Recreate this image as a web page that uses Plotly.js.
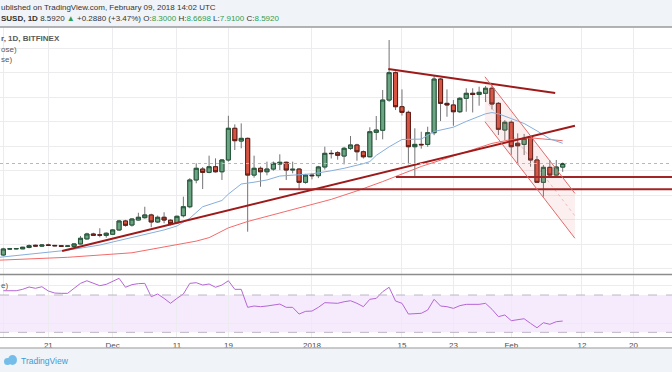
<!DOCTYPE html>
<html><head><meta charset="utf-8">
<script src="https://cdn.plot.ly/plotly-3.0.1.min.js"></script>
<style>html,body{margin:0;padding:0;background:#fff;} #chart{width:672px;height:372px;}</style>
</head><body><div id="chart"></div>
<script>
// ---- daily candles, BITFINEX EOSUSD 1D ----
const dates = ['2017-11-14','2017-11-15','2017-11-16','2017-11-17','2017-11-18','2017-11-19','2017-11-20','2017-11-21','2017-11-22','2017-11-23','2017-11-24','2017-11-25','2017-11-26','2017-11-27','2017-11-28','2017-11-29','2017-11-30',
'2017-12-01','2017-12-02','2017-12-03','2017-12-04','2017-12-05','2017-12-06','2017-12-07','2017-12-08','2017-12-09','2017-12-10','2017-12-11','2017-12-12','2017-12-13','2017-12-14','2017-12-15','2017-12-16','2017-12-17','2017-12-18','2017-12-19','2017-12-20','2017-12-21','2017-12-22','2017-12-23','2017-12-24','2017-12-25','2017-12-26','2017-12-27','2017-12-28','2017-12-29','2017-12-30','2017-12-31',
'2018-01-01','2018-01-02','2018-01-03','2018-01-04','2018-01-05','2018-01-06','2018-01-07','2018-01-08','2018-01-09','2018-01-10','2018-01-11','2018-01-12','2018-01-13','2018-01-14','2018-01-15','2018-01-16','2018-01-17','2018-01-18','2018-01-19','2018-01-20','2018-01-21','2018-01-22','2018-01-23','2018-01-24','2018-01-25','2018-01-26','2018-01-27','2018-01-28','2018-01-29','2018-01-30','2018-01-31',
'2018-02-01','2018-02-02','2018-02-03','2018-02-04','2018-02-05','2018-02-06','2018-02-07','2018-02-08','2018-02-09'];
const openP = [1.14,1.63,1.64,1.64,1.75,1.93,1.86,1.95,1.92,1.89,1.85,1.84,2.04,2.45,2.85,2.78,2.74,
2.83,3.18,3.91,3.58,3.99,4.18,4.40,3.83,4.21,3.97,3.77,4.34,5.07,7.25,8.14,7.87,8.33,7.92,8.88,11.46,10.42,10.64,7.65,8.20,7.92,8.14,8.55,8.69,8.06,8.14,7.06,
7.65,7.60,8.31,9.42,9.47,9.20,9.83,10.10,9.55,9.14,11.13,11.30,13.76,15.99,13.22,12.76,9.96,10.15,10.15,11.10,15.47,13.49,13.36,12.81,13.90,14.31,14.22,14.31,14.72,13.49,11.32,
11.95,10.24,10.15,10.77,8.88,7.06,8.28,7.65,8.30];
const highP = [1.72,1.68,1.70,1.80,2.00,1.98,2.00,2.06,1.96,1.92,1.91,2.08,2.69,2.95,2.95,3.32,2.98,
3.25,4.00,4.00,4.12,4.58,5.07,4.50,4.35,4.62,4.05,4.35,5.89,7.40,8.61,8.30,9.23,9.01,8.95,12.48,11.78,11.86,10.70,9.23,8.35,8.74,8.75,9.34,8.75,8.74,8.20,7.75,
7.80,8.40,9.96,9.69,9.60,9.95,10.83,10.20,9.65,11.54,12.46,14.58,18.65,16.10,14.63,12.90,11.46,11.18,11.59,15.72,15.55,14.63,13.76,14.00,14.72,14.72,14.85,14.90,14.98,13.60,12.13,
12.10,11.05,11.00,10.90,9.20,8.47,8.88,8.88,8.6698];
const lowP = [1.08,1.58,1.60,1.62,1.68,1.84,1.80,1.88,1.86,1.82,1.80,1.80,2.00,2.40,2.70,2.58,2.55,
2.80,3.10,3.45,3.45,3.95,4.10,3.40,3.75,3.72,3.55,3.70,4.20,4.95,6.98,6.51,7.80,7.85,7.25,8.74,9.69,9.83,3.04,7.44,6.70,7.63,8.00,8.06,7.25,7.79,6.51,6.95,
7.30,7.40,8.10,9.00,8.90,8.52,9.70,8.82,9.00,9.10,10.50,10.56,13.62,12.95,12.50,8.52,7.52,9.80,9.95,10.90,12.05,12.40,11.67,12.70,12.81,12.75,13.30,13.60,13.00,10.91,10.50,
9.30,8.52,9.28,8.33,7.00,5.89,7.50,7.60,7.91];
const closeP = [1.63,1.64,1.66,1.77,1.90,1.87,1.95,1.93,1.89,1.85,1.87,2.04,2.50,2.85,2.75,2.76,2.91,
3.18,3.91,3.56,4.07,4.21,4.40,3.83,4.21,3.99,3.69,4.29,5.07,7.25,8.20,7.87,8.33,7.92,8.88,11.46,10.45,10.64,7.65,8.20,7.92,8.14,8.61,8.69,8.06,8.12,7.06,7.65,
7.60,8.31,9.42,9.40,9.26,9.83,10.10,9.55,9.14,11.18,11.32,13.76,15.99,13.22,12.76,9.96,10.15,10.12,11.10,15.47,13.49,13.36,12.81,13.90,14.31,14.22,14.39,14.72,13.44,11.38,11.95,
9.96,10.04,10.64,8.88,7.06,8.28,7.65,8.304,8.592];
// ---- RSI (14, close) ----
const rsi = [74.6,74.6,74.6,76.1,78.6,77.2,78.9,74.3,72.1,71.8,71.8,77.2,82.5,85.3,82.5,80.0,81.4,
84.3,87.9,78.3,81.1,82.2,82.5,68.2,71.1,66.4,61.1,66.4,71.1,82.5,83.2,80.7,81.8,78.3,80.7,85.3,76.1,76.1,56.8,58.2,57.5,58.2,59.6,60.3,56.8,56.8,49.6,52.5,
52.8,56.8,61.8,61.8,61.1,62.8,63.9,61.1,57.5,65.4,66.4,73.6,78.3,63.6,61.1,49.6,50.0,50.4,53.9,65.4,58.2,57.5,55.7,58.6,60.0,60.0,60.0,61.1,54.7,46.8,48.6,
42.5,43.2,44.6,39.6,34.9,40.3,38.6,41.4,42.1];
// ---- moving averages ----
const ma20Dates = ['2017-11-13','2017-11-21','2017-11-24','2017-11-29','2017-12-01','2017-12-05','2017-12-09','2017-12-11','2017-12-13','2017-12-15','2017-12-18','2017-12-19','2017-12-21','2017-12-23','2017-12-25','2017-12-27','2017-12-29',
'2018-01-01','2018-01-04','2018-01-06','2018-01-09','2018-01-10','2018-01-11','2018-01-13','2018-01-15','2018-01-17','2018-01-18','2018-01-20','2018-01-23','2018-01-25','2018-01-28','2018-01-29','2018-01-30','2018-02-01','2018-02-03','2018-02-05','2018-02-07','2018-02-09'];
const ma20 = [0.93,1.40,1.53,1.95,2.20,2.74,3.18,3.50,4.13,5.07,5.58,6.10,6.92,7.07,7.25,7.57,7.65,
7.75,8.00,8.20,8.58,8.75,9.25,9.95,10.55,10.55,10.58,11.20,11.55,12.02,12.64,12.74,12.64,12.25,11.85,11.25,10.60,10.24];
const ma50Dates = ['2017-11-13','2017-11-24','2017-12-04','2017-12-10','2017-12-14','2017-12-16','2017-12-19','2017-12-22','2017-12-24','2017-12-29',
'2018-01-04','2018-01-08','2018-01-12','2018-01-18','2018-01-22','2018-01-26','2018-01-29','2018-02-01','2018-02-04','2018-02-09'];
const ma50 = [0.71,0.95,1.32,1.88,2.27,2.55,3.35,3.87,4.14,4.80,5.67,6.36,7.12,8.35,9.04,9.75,10.23,10.54,10.68,10.45];
// ---- drawings ----
const supportX = ['2017-11-23 03:20','2018-02-10 21:36'], supportY = [1.47, 11.67];
const resistX = ['2018-01-12 21:00','2018-02-07 20:00'], resistY = [16.29, 14.33];
const level1X = ['2018-01-14 01:30','2018-03-05'], level1Y = [7.49, 7.49];
const level2X = ['2017-12-26 21:00','2018-03-05'], level2Y = [6.49, 6.49];
const channelX = ['2018-01-27 21:36','2018-02-10 21:36'];
const channelUpY = [15.66, 6.16], channelLowY = [12.00, 2.50];
// ---- axes ----
const tickDates = ['2017-11-14','2017-11-21','2017-12-01','2017-12-11','2017-12-19','2018-01-01','2018-01-15','2018-01-23','2018-02-01','2018-02-12','2018-02-20'];
const tickLabels = ['14','21','Dec','11','19','2018','15','23','Feb','12','20'];
const priceGrid = [0,2,4,6,8,10,12,14,16,18];
const rsiGrid = [40,80];
const rsiUpper = 70, rsiLower = 30;
// ---- texts as visible in the (cropped) screenshot ----
const headerLine1 = 'ublished on TradingView.com, February 09, 2018 14:02 UTC';
const symbolLabel = 'SUSD, 1D';
const seriesLegend = 'r, 1D, BITFINEX';
const ma20Legend = 'ose)';
const ma50Legend = 'se)';
const rsiLegend = 'e)';

const W = 672, H = 372;
const px = v => v / W, py = v => 1 - v / H;

const bodyHigh = openP.map((o,i)=>Math.max(o, closeP[i]));
const bodyLow = openP.map((o,i)=>Math.min(o, closeP[i]));
const n = closeP.length;
const last = closeP[n-1], prev = closeP[n-2];
const chg = last - prev, pct = chg / prev * 100;
const G = '#2f9e50';
const f4 = v => v.toFixed(4);

const traces = [
  {type:'scatter', mode:'lines', x:[channelX[0],channelX[1],channelX[1],channelX[0],channelX[0]],
   y:[channelUpY[0],channelUpY[1],channelLowY[1],channelLowY[0],channelUpY[0]],
   fill:'toself', fillcolor:'rgba(225,120,120,0.12)', line:{width:0}, hoverinfo:'skip'},
  {type:'scatter', mode:'lines', x:channelX, y:[(channelUpY[0]+channelLowY[0])/2,(channelUpY[1]+channelLowY[1])/2],
   line:{color:'rgba(214,100,100,0.35)', width:1, dash:'dot'}, hoverinfo:'skip'},
  {type:'scatter', mode:'lines', x:ma50Dates, y:ma50, line:{color:'#f26b6b', width:1}, hoverinfo:'skip'},
  {type:'scatter', mode:'lines', x:ma20Dates, y:ma20, line:{color:'#86aedb', width:1}, hoverinfo:'skip'},
  {type:'candlestick', x:dates, open:openP, high:highP, low:lowP, close:closeP, whiskerwidth:0,
   increasing:{line:{color:'#737375', width:1}, fillcolor:'#737375'},
   decreasing:{line:{color:'#737375', width:1}, fillcolor:'#737375'}, hoverinfo:'skip'},
  {type:'candlestick', x:dates, open:openP, high:bodyHigh, low:bodyLow, close:closeP, whiskerwidth:0,
   increasing:{line:{color:'#225437', width:1}, fillcolor:'#6ba583'},
   decreasing:{line:{color:'#5b1a13', width:1}, fillcolor:'#d75442'}, hoverinfo:'skip'},
  {type:'scatter', mode:'lines', x:supportX, y:supportY, line:{color:'#9e1a1a', width:2}, hoverinfo:'skip'},
  {type:'scatter', mode:'lines', x:resistX, y:resistY, line:{color:'#9e1a1a', width:2}, hoverinfo:'skip'},
  {type:'scatter', mode:'lines', x:level1X, y:level1Y, line:{color:'#a32424', width:2}, hoverinfo:'skip'},
  {type:'scatter', mode:'lines', x:level2X, y:level2Y, line:{color:'#a32424', width:2}, hoverinfo:'skip'},
  {type:'scatter', mode:'lines', x:channelX, y:channelUpY, line:{color:'#e06a6a', width:1}, hoverinfo:'skip'},
  {type:'scatter', mode:'lines', x:channelX, y:channelLowY, line:{color:'#e06a6a', width:1}, hoverinfo:'skip'},
  {type:'scatter', mode:'lines', x:dates, y:rsi, xaxis:'x', yaxis:'y2', line:{color:'#b566d6', width:1}, hoverinfo:'skip'}
];

const shapes = [
  {type:'rect', xref:'paper', yref:'paper', x0:0, x1:1, y0:py(27), y1:1, fillcolor:'#f0f3f8', line:{width:0}, layer:'below'},
  {type:'line', xref:'paper', yref:'paper', x0:0, x1:1, y0:py(27), y1:py(27), line:{color:'#9a9a9a', width:1.5}},
  {type:'rect', xref:'paper', yref:'paper', x0:0, x1:1, y0:0, y1:py(348), fillcolor:'#f0f3f8', line:{width:0}, layer:'below'},
  {type:'line', xref:'paper', yref:'paper', x0:0, x1:1, y0:py(348), y1:py(348), line:{color:'#b8b8b8', width:1.5}},
  {type:'rect', xref:'paper', yref:'y2', x0:0, x1:1, y0:rsiLower, y1:rsiUpper, fillcolor:'rgba(178,102,230,0.13)', line:{width:0}, layer:'below'},
  {type:'line', xref:'paper', yref:'y2', x0:0, x1:1, y0:rsiUpper, y1:rsiUpper, line:{color:'#bdb5c4', width:1, dash:'dash'}},
  {type:'line', xref:'paper', yref:'y2', x0:0, x1:1, y0:rsiLower, y1:rsiLower, line:{color:'#bdb5c4', width:1, dash:'dash'}},
  {type:'line', xref:'paper', yref:'paper', x0:0, x1:1, y0:py(274.5), y1:py(274.5), line:{color:'#8c8c8c', width:1.5}},
  {type:'line', xref:'paper', yref:'y', x0:0, x1:1, y0:last, y1:last, line:{color:'#93cfa2', width:1, dash:'dot'}},
  {type:'circle', xref:'paper', yref:'paper', x0:px(4), x1:px(11), y0:py(365), y1:py(358), fillcolor:'#74bde8', line:{width:0}},
  {type:'circle', xref:'paper', yref:'paper', x0:px(8), x1:px(17), y0:py(365), y1:py(355), fillcolor:'#74bde8', line:{width:0}}
];

const hdr2 = '<b>' + symbolLabel + '</b> ' + f4(last) + ' <span style="color:' + G + '">▲</span> ' + (chg>=0?'+':'') + f4(chg) +
  ' (' + (pct>=0?'+':'') + pct.toFixed(2) + '%) O:<span style="color:' + G + '">' + f4(openP[n-1]) + '</span> H:<span style="color:' + G + '">' + f4(highP[n-1]) +
  '</span> L:<span style="color:' + G + '">' + f4(lowP[n-1]) + '</span> C:<span style="color:' + G + '">' + f4(last) + '</span>';

const ann = (text, xl, y, opts) => Object.assign({text:text, xref:'paper', yref:'paper', x:px(xl), y:py(y), xanchor:'left', yanchor:'middle', showarrow:false, borderpad:0, font:{size:8, color:'#444'}}, opts||{});
const annotations = [
  ann(headerLine1, 0, 8, {font:{size:8, color:'#333'}}),
  ann(hdr2, 0, 19, {font:{size:8, color:'#333'}}),
  ann('<b>' + seriesLegend + '</b>', 0, 38, {font:{size:8, color:'#5a5a5a'}}),
  ann(ma20Legend, 0, 49, {font:{size:8, color:'#5a5a5a'}}),
  ann(ma50Legend, 0, 60, {font:{size:8, color:'#5a5a5a'}}),
  ann(rsiLegend, 0, 285, {font:{size:8, color:'#5a5a5a'}}),
  ann('TradingView', 20, 361, {font:{size:8.5, color:'#3a9bd6'}})
];

const grid = '#ececee';
const layout = {
  width:W, height:H, margin:{l:0, r:0, t:0, b:0},
  paper_bgcolor:'#ffffff', plot_bgcolor:'#ffffff', showlegend:false,
  boxmode:'overlay', boxgap:0.3, boxgroupgap:0.1,
  font:{family:'Liberation Sans, Arial, sans-serif', size:8, color:'#4a4a4a'},
  xaxis:{type:'date', range:['2017-11-13 11:30','2018-02-26 00:00'], domain:[0,1], anchor:'y2',
    rangeslider:{visible:false}, tickmode:'array', tickvals:tickDates, ticktext:tickLabels,
    showgrid:true, gridcolor:grid, gridwidth:1, ticks:'', showline:true, linecolor:'#9b9b9b', linewidth:1,
    zeroline:false, tickfont:{size:8, color:'#4d4d4d'}},
  yaxis:{domain:[py(274.5), py(28)], range:[-0.45, 19.63], tickmode:'array', tickvals:priceGrid,
    showticklabels:false, showgrid:true, gridcolor:grid, zeroline:false, ticks:''},
  yaxis2:{domain:[py(337), py(274.5)], range:[25, 92], tickmode:'array', tickvals:rsiGrid,
    showticklabels:false, showgrid:true, gridcolor:grid, zeroline:false, ticks:''},
  shapes:shapes, annotations:annotations
};
Plotly.newPlot('chart', traces, layout, {staticPlot:true, displayModeBar:false});
</script>
</body></html>
